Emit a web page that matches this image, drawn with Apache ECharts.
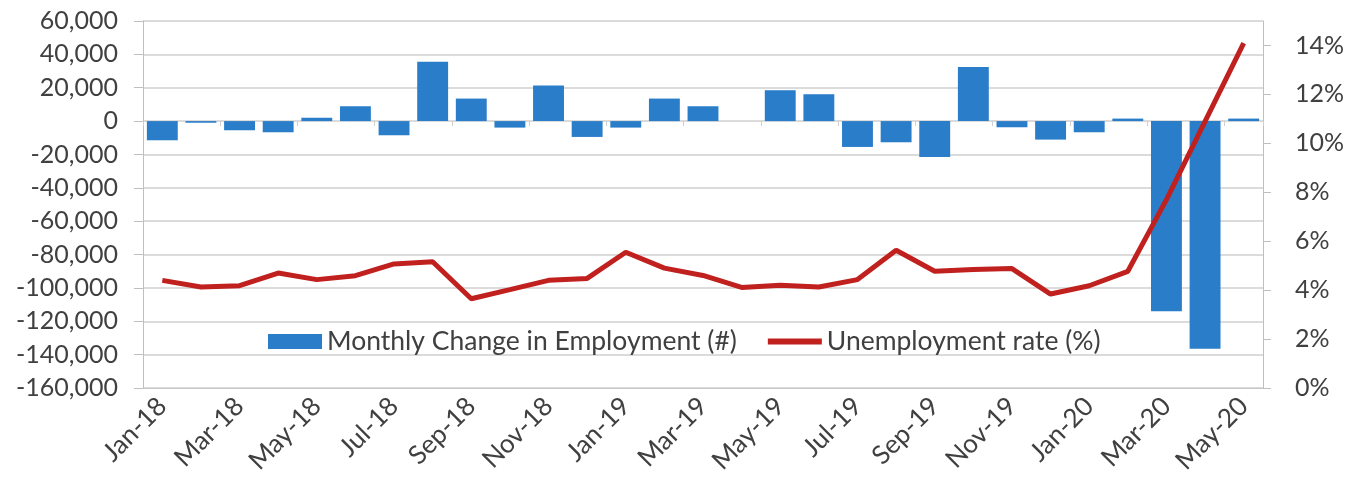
<!DOCTYPE html>
<html>
<head>
<meta charset="utf-8">
<script src="https://cdn.jsdelivr.net/npm/echarts@6/dist/echarts.min.js"></script>
<style>
html,body{margin:0;padding:0;background:#fff;}
#chart{width:1359px;height:486px;}
</style>
</head>
<body>
<div id="chart"></div>
<script>
const months = ['Jan-18','Feb-18','Mar-18','Apr-18','May-18','Jun-18','Jul-18','Aug-18','Sep-18','Oct-18','Nov-18','Dec-18',
  'Jan-19','Feb-19','Mar-19','Apr-19','May-19','Jun-19','Jul-19','Aug-19','Sep-19','Oct-19','Nov-19','Dec-19',
  'Jan-20','Feb-20','Mar-20','Apr-20','May-20'];
const employmentChange = [-11500,-1000,-5500,-6700,2000,8900,-8500,35500,13500,-3900,21300,-9500,
  -3900,13500,8900,0,18500,16100,-15500,-12700,-21500,32500,-3700,-11100,
  -6700,1500,-114000,-136500,1500];
const unemploymentRate = [4.4,4.13,4.18,4.7,4.43,4.59,5.07,5.16,3.65,4.02,4.4,4.48,
  5.55,4.9,4.6,4.11,4.2,4.13,4.43,5.63,4.77,4.84,4.88,3.84,
  4.18,4.77,7.7,10.9,14.1];
const leftTicks = {min:-160000, max:60000, step:20000};
const rateTicks = [0,2,4,6,8,10,12,14];
const seriesNames = ['Monthly Change in Employment (#)','Unemployment rate (%)'];

const FONT = 'Lato';
const TXT = '#404040';
const chart = echarts.init(document.getElementById('chart'));
chart.setOption({
  backgroundColor:'#ffffff',
  animation:false,
  textStyle:{fontFamily:FONT},
  grid:{left:143,right:96,top:21,bottom:98},
  legend:{
    left:263, top:323,
    itemWidth:54, itemHeight:15, itemGap:28,
    textStyle:{fontFamily:FONT,fontSize:26.5,color:TXT},
    data:[{name:seriesNames[0],icon:'rect'},
          {name:seriesNames[1],itemStyle:{opacity:0},lineStyle:{color:'#c0201e',width:6}}]
  },
  xAxis:[{
    type:'category', data:months, position:'bottom',
    axisLine:{onZero:false,show:true,lineStyle:{color:'#c8c8c8'}},
    axisTick:{show:false},
    axisLabel:{interval:1,rotate:45,fontFamily:FONT,fontSize:26,color:TXT,margin:14},
    splitLine:{show:false}
  },{
    type:'category', data:months, position:'bottom',
    axisLine:{show:false,onZero:true,onZeroAxisIndex:0},
    axisTick:{show:true,interval:1,length:5,lineStyle:{color:'#d0d0d0'}},
    axisLabel:{show:false},
    splitLine:{show:false}
  }],
  yAxis:[{
    type:'value', min:leftTicks.min, max:leftTicks.max, interval:leftTicks.step,
    axisLine:{show:true,lineStyle:{color:'#bfbfbf'}},
    axisTick:{show:true,length:9,lineStyle:{color:'#bfbfbf'}},
    axisLabel:{fontFamily:FONT,fontSize:25,color:TXT,margin:25,
      formatter:v=>v.toLocaleString('en-US')},
    splitLine:{show:true,lineStyle:{color:'#cfcfcf',width:1.5}}
  },{
    type:'value', min:0, max:15, interval:1, position:'right',
    axisLine:{show:true,lineStyle:{color:'#bfbfbf'}},
    axisTick:{show:true,length:8,customValues:rateTicks,lineStyle:{color:'#bfbfbf'}},
    axisLabel:{fontFamily:FONT,fontSize:25,color:TXT,margin:32,customValues:rateTicks,
      formatter:v=>v+'%'},
    splitLine:{show:false}
  }],
  series:[{
    name:seriesNames[0], type:'bar', data:employmentChange,
    xAxisIndex:0, yAxisIndex:0, barWidth:'80%',
    itemStyle:{color:'#2a7dc9'}
  },{
    name:seriesNames[1], type:'line', data:unemploymentRate,
    xAxisIndex:0, yAxisIndex:1, symbol:'none', showSymbol:false,
    lineStyle:{color:'#c0201e',width:5},
    itemStyle:{color:'#c0201e'},
    z:5
  }]
});
</script>
</body>
</html>
